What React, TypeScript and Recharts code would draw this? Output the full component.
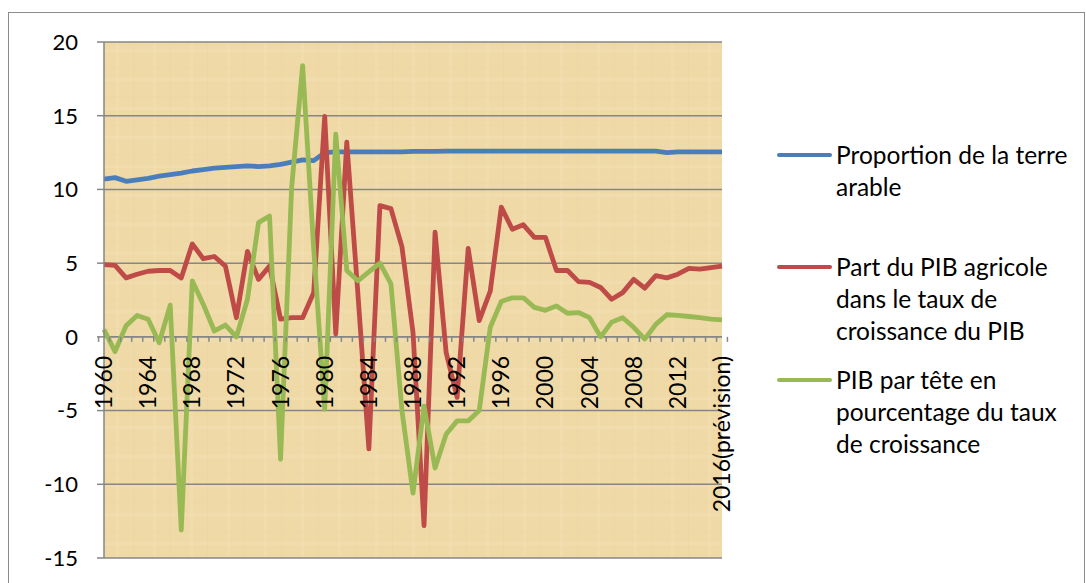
import React from 'react';
import { LineChart, Line, XAxis, YAxis, CartesianGrid, ReferenceLine } from 'recharts';

// Category labels (1960 .. 2016 forecast)
const years: string[] = [
  '1960', '1961', '1962', '1963', '1964', '1965', '1966', '1967', '1968', '1969',
  '1970', '1971', '1972', '1973', '1974', '1975', '1976', '1977', '1978', '1979',
  '1980', '1981', '1982', '1983', '1984', '1985', '1986', '1987', '1988', '1989',
  '1990', '1991', '1992', '1993', '1994', '1995', '1996', '1997', '1998', '1999',
  '2000', '2001', '2002', '2003', '2004', '2005', '2006', '2007', '2008', '2009',
  '2010', '2011', '2012', '2013', '2014', '2015', '2016(prévision)'
];

// Proportion de la terre arable
const terreArable: number[] = [
  10.7, 10.8, 10.55, 10.65, 10.75, 10.9, 11.0, 11.1, 11.25, 11.35,
  11.45, 11.5, 11.55, 11.6, 11.55, 11.6, 11.7, 11.85, 12.0, 11.95,
  12.5, 12.55, 12.55, 12.55, 12.55, 12.55, 12.55, 12.55, 12.58, 12.58,
  12.58, 12.6, 12.6, 12.6, 12.6, 12.6, 12.6, 12.6, 12.6, 12.6,
  12.6, 12.6, 12.6, 12.6, 12.6, 12.6, 12.6, 12.6, 12.6, 12.6,
  12.6, 12.5, 12.55, 12.55, 12.55, 12.55, 12.55
];

// Part du PIB agricole dans le taux de croissance du PIB
const pibAgricole: number[] = [
  4.9, 4.85, 4.0, 4.25, 4.45, 4.5, 4.5, 4.0, 6.3, 5.3,
  5.45, 4.8, 1.3, 5.8, 3.9, 4.8, 1.2, 1.3, 1.3, 3.0,
  14.95, 0.2, 13.2, 3.0, -7.6, 8.9, 8.7, 6.1, 0.3, -12.8,
  7.1, -1.05, -4.1, 6.0, 1.1, 3.1, 8.8, 7.3, 7.6, 6.75,
  6.75, 4.5, 4.5, 3.75, 3.7, 3.35, 2.55, 3.0, 3.9, 3.3,
  4.15, 4.0, 4.25, 4.65, 4.6, 4.7, 4.8
];

// PIB par tête en pourcentage du taux de croissance
const pibParTete: number[] = [
  0.5, -1.0, 0.75, 1.45, 1.2, -0.4, 2.15, -13.1, 3.8, 2.2,
  0.4, 0.8, 0.0, 2.55, 7.75, 8.2, -8.3, 10.1, 18.4, 6.0,
  -4.9, 13.75, 4.5, 3.8, 4.4, 5.0, 3.6, -5.0, -10.6, -4.7,
  -8.9, -6.6, -5.7, -5.7, -5.0, 0.65, 2.4, 2.65, 2.65, 2.0,
  1.8, 2.1, 1.6, 1.65, 1.3, 0.0, 1.0, 1.3, 0.65, -0.15,
  0.85, 1.5, 1.45, 1.38, 1.3, 1.2, 1.15
];

const yTicks = [-15, -10, -5, 0, 5, 10, 15, 20];

const series = [
  { key: 'terre', name: ['Proportion de la terre', 'arable'], color: '#4A7EBB', values: terreArable },
  { key: 'agricole', name: ['Part du PIB agricole', 'dans le taux de', 'croissance du PIB'], color: '#BE4B48', values: pibAgricole },
  { key: 'tete', name: ['PIB par tête en', 'pourcentage du taux', 'de croissance'], color: '#98B954', values: pibParTete }
];

const chartData = years.map((year, i) => ({
  year,
  terre: terreArable[i],
  agricole: pibAgricole[i],
  tete: pibParTete[i]
}));

const W = 1086;
const H = 583;
const MARGIN = { top: 42, right: 364, bottom: 24, left: 44 };
const Y_AXIS_W = 60;
const X_AXIS_H = 1;
const PLOT_W = W - MARGIN.left - MARGIN.right - Y_AXIS_W;
const PLOT_H = H - MARGIN.top - MARGIN.bottom - X_AXIS_H;
const Y_MIN = -15;
const Y_MAX = 20;
const FONT = 'Lato, "Open Sans", sans-serif';
const GRID = '#868686';

// x axis sits on the zero line (Excel style), ticks between categories
const XTick = (props: any) => {
  const { x, y, payload, index } = props;
  const zeroY = y - PLOT_H * (0 - Y_MIN) / (Y_MAX - Y_MIN);
  const step = PLOT_W / years.length;
  const last = index === years.length - 1;
  const showLabel = index % 4 === 0 || last;
  return (
    <g>
      <line x1={x - step / 2} x2={x - step / 2} y1={zeroY} y2={zeroY + 5} stroke={GRID} strokeWidth={1.5} />
      {last && (
        <line x1={x + step / 2} x2={x + step / 2} y1={zeroY} y2={zeroY + 5} stroke={GRID} strokeWidth={1.5} />
      )}
      {showLabel && (
        <text
          transform={`translate(${x + 8}, ${zeroY + 19}) rotate(-90)`}
          textAnchor="end"
          fontSize={23}
          fontFamily={FONT}
          fill="#000"
        >
          {payload.value}
        </text>
      )}
    </g>
  );
};

const CustomLegend = () => {
  const tops = [139, 251, 364];
  return (
    <>
      {series.map((s, idx) => (
        <div
          key={s.key}
          style={{ position: 'absolute', left: 777, top: tops[idx], display: 'flex', alignItems: 'flex-start' }}
        >
          <div style={{ width: 55, height: 4, borderRadius: 2, background: s.color, marginTop: 14 }} />
          <div style={{ marginLeft: 4, fontFamily: FONT, fontSize: 24.5, lineHeight: '32px', color: '#000' }}>
            {s.name.map((line) => (
              <div key={line} style={{ whiteSpace: 'nowrap' }}>{line}</div>
            ))}
          </div>
        </div>
      ))}
    </>
  );
};

export default function App() {
  return (
    <div style={{ position: 'absolute', left: 0, top: 0, width: W, height: H, overflow: 'hidden', background: '#fff' }}>
      <div
        style={{
          position: 'absolute', left: 8, top: 12, width: 1075, height: 620,
          borderLeft: '1.5px solid #8c8c8c', borderTop: '1.5px solid #8c8c8c', borderRight: '1.5px solid #8c8c8c'
        }}
      />
      <div style={{ position: 'absolute', left: 0, top: 0 }}>
        <LineChart width={W} height={H} data={chartData} margin={MARGIN}>
          <defs>
            <pattern id="papyrus" width="37" height="29" patternUnits="userSpaceOnUse">
              <rect width="37" height="29" fill="#EFD9A6" />
              <rect x="5" width="3" height="29" fill="#F2DFB1" opacity="0.5" />
              <rect x="22" width="1" height="29" fill="#E9D19C" opacity="0.35" />
              <rect y="9" width="37" height="1" fill="#EAD29D" opacity="0.35" />
              <rect y="20" width="37" height="3" fill="#F3E1B6" opacity="0.45" />
            </pattern>
          </defs>
          <CartesianGrid
            horizontal
            vertical={false}
            stroke={GRID}
            strokeWidth={1.5}
            fill="url(#papyrus)"
            fillOpacity={1}
          />
          <XAxis
            dataKey="year"
            height={X_AXIS_H}
            interval={0}
            axisLine={false}
            tickLine={false}
            tickSize={0}
            tickMargin={0}
            tick={<XTick />}
          />
          <YAxis
            width={Y_AXIS_W}
            domain={[Y_MIN, Y_MAX]}
            ticks={yTicks}
            allowDataOverflow
            axisLine={{ stroke: GRID, strokeWidth: 1.5 }}
            tickLine={{ stroke: GRID, strokeWidth: 1.5 }}
            tickSize={7}
            tickMargin={19}
            tick={{ fontSize: 22, fontFamily: FONT, fill: '#000' }}
          />
          <ReferenceLine y={0} stroke={GRID} strokeWidth={1.5} />
          {series.map((s) => (
            <Line
              key={s.key}
              type="linear"
              dataKey={s.key}
              name={s.name.join(' ')}
              stroke={s.color}
              strokeWidth={4.8}
              strokeLinejoin="round"
              dot={false}
              activeDot={false}
              isAnimationActive={false}
            />
          ))}
        </LineChart>
      </div>
      <CustomLegend />
    </div>
  );
}
